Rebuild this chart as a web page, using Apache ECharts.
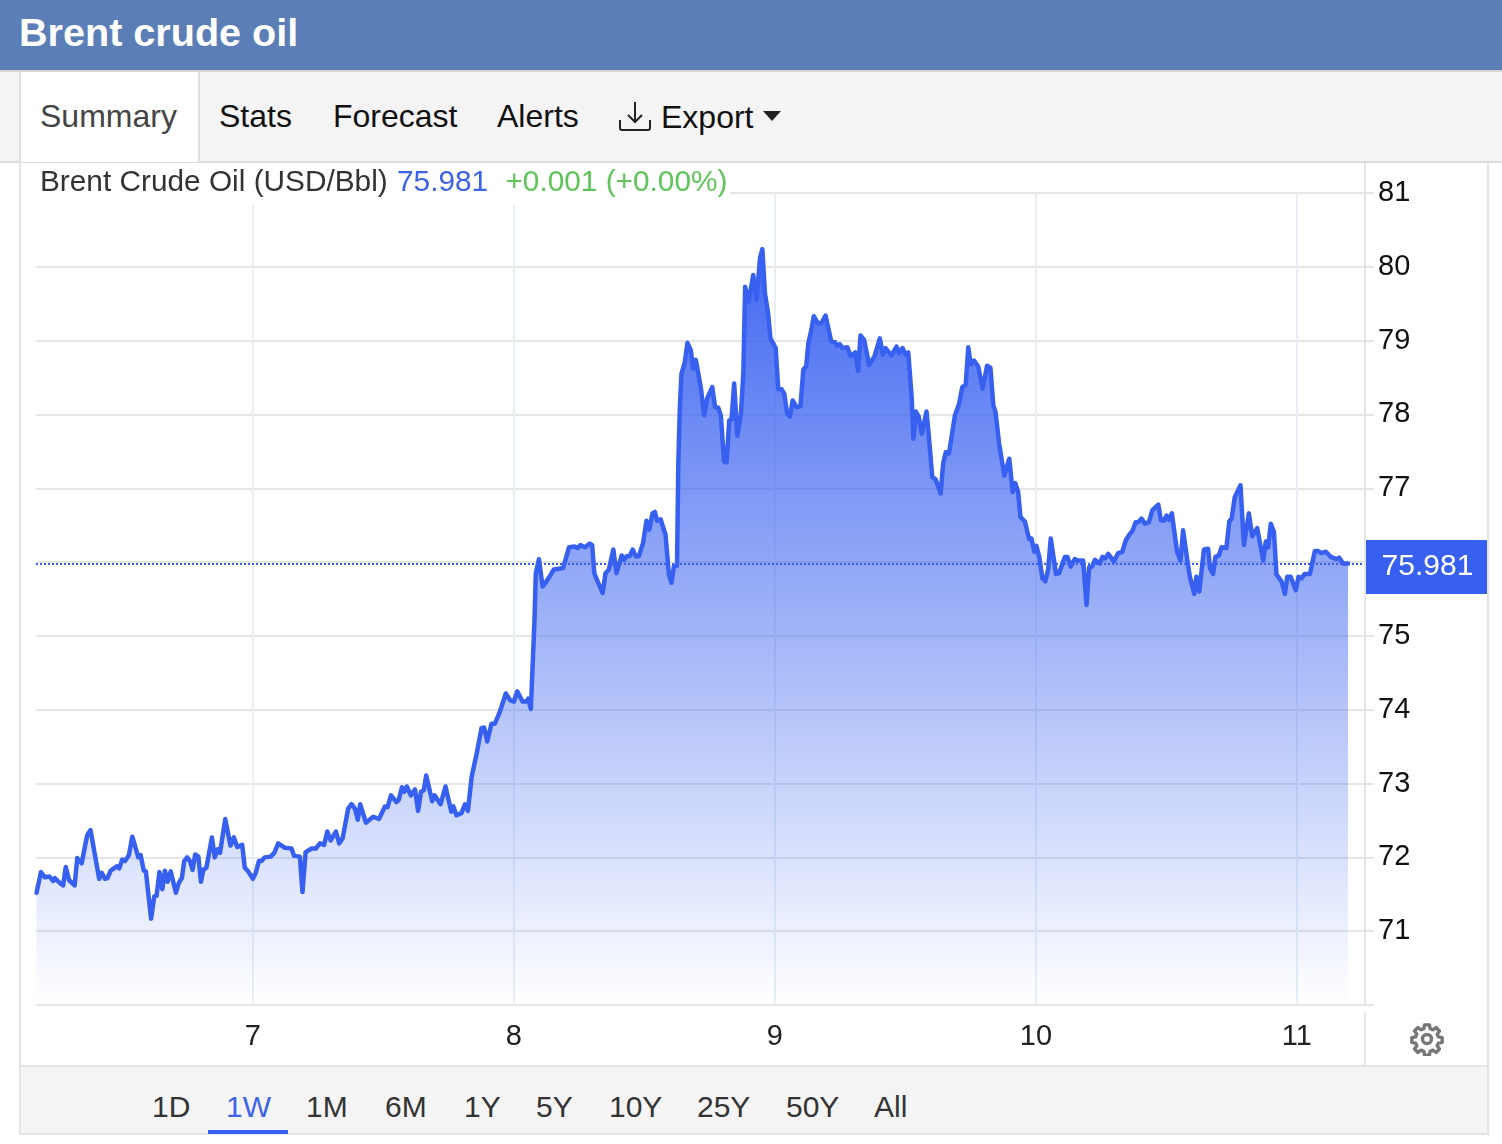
<!DOCTYPE html>
<html><head><meta charset="utf-8">
<script src="https://cdn.jsdelivr.net/npm/echarts@6/dist/echarts.min.js"></script>
<style>
html,body{margin:0;padding:0;background:#fff;width:1502px;height:1144px;overflow:hidden;font-family:"Liberation Sans",Arial,sans-serif}
.a{position:absolute}
.t{position:absolute;white-space:nowrap;line-height:40px;height:40px}
</style></head><body>
<div id="chart" class="a" style="left:0;top:0;width:1502px;height:1144px"></div>
<div class="a" style="left:0;top:0;width:1502px;height:70px;background:#5b7eb6"></div>
<div class="a" style="left:0;top:70px;width:1502px;height:2px;background:#d6d6d6"></div>
<div class="t" style="left:19px;top:12px;font-size:39.6px;font-weight:bold;color:#fff">Brent crude oil</div>
<div class="a" style="left:0;top:72px;width:1502px;height:89px;background:#f4f4f4"></div>
<div class="a" style="left:0;top:161px;width:1502px;height:2px;background:#dcdcdc"></div>
<div class="a" style="left:19px;top:72px;height:90px;background:#fff;border-left:2px solid #e0e0e0;border-right:2px solid #e0e0e0;box-sizing:border-box;width:181px"></div>
<div class="t" style="left:40px;top:96px;font-size:32px;color:#444">Summary</div>
<div class="t" style="left:219px;top:96px;font-size:32px;color:#111">Stats</div>
<div class="t" style="left:333px;top:96px;font-size:32px;color:#111">Forecast</div>
<div class="t" style="left:497px;top:96px;font-size:32px;color:#111">Alerts</div>
<svg class="a" style="left:618px;top:101px" width="34" height="30" viewBox="0 0 34 30" fill="none" stroke="#222" stroke-width="2"><path d="M17 1V21M10 14L17 21L24 14M2 19V27Q2 29 4 29H30Q32 29 32 27V19"/></svg>
<div class="t" style="left:661px;top:97px;font-size:32px;color:#111">Export</div>
<svg class="a" style="left:763px;top:111px" width="18" height="10"><path d="M0 0H18L9 10Z" fill="#222"/></svg>
<div class="a" style="left:19px;top:163px;width:2px;height:972px;background:#e4e4e4"></div>
<div class="a" style="left:1487px;top:163px;width:2px;height:972px;background:#e4e4e4"></div>
<div class="a" style="left:21px;top:163px;width:709px;height:41px;background:#fff"></div>
<div class="t" style="left:40px;top:161px;font-size:29.8px;color:#333">Brent Crude Oil (USD/Bbl) <span style="color:#3d63e8;margin-left:1px">75.981</span> <span style="color:#5fc55a;margin-left:9px">+0.001 (+0.00%)</span></div>
<div class="a" style="left:1364px;top:163px;width:2px;height:842px;background:#e4e4e4"></div>
<div class="a" style="left:1364px;top:1013px;width:2px;height:52px;background:#e4e4e4"></div>
<svg class="a" style="left:1410px;top:1022px" width="34" height="34" viewBox="0 0 24 24" fill="none" stroke="#777" stroke-width="2.4" stroke-linejoin="round"><circle cx="12" cy="12" r="3.2"/><path d="M10.3 2h3.4l.5 2.7 1.9.8 2.3-1.6 2.4 2.4-1.6 2.3.8 1.9 2.7.5v3.4l-2.7.5-.8 1.9 1.6 2.3-2.4 2.4-2.3-1.6-1.9.8-.5 2.7h-3.4l-.5-2.7-1.9-.8-2.3 1.6-2.4-2.4 1.6-2.3-.8-1.9-2.7-.5v-3.4l2.7-.5.8-1.9-1.6-2.3 2.4-2.4 2.3 1.6 1.9-.8z"/></svg>
<div class="a" style="left:21px;top:1065px;width:1466px;height:68px;background:#f4f4f4;border-top:2px solid #e4e4e4;box-sizing:border-box"></div>
<div class="a" style="left:19px;top:1133px;width:1470px;height:2px;background:#e4e4e4"></div>
<div class="a" style="left:208px;top:1130px;width:80px;height:4px;background:#3860f0"></div>
<div id="ranges"></div>
<script>
const times=[6.171,6.188,6.203,6.220,6.235,6.241,6.261,6.273,6.283,6.296,6.317,6.327,6.344,6.365,6.378,6.411,6.421,6.433,6.443,6.455,6.480,6.488,6.499,6.510,6.525,6.538,6.561,6.570,6.582,6.590,6.610,6.622,6.631,6.642,6.653,6.663,6.673,6.685,6.705,6.717,6.728,6.737,6.748,6.759,6.769,6.779,6.791,6.801,6.810,6.822,6.843,6.854,6.865,6.874,6.894,6.914,6.927,6.940,6.959,6.969,6.982,7.000,7.011,7.023,7.033,7.045,7.068,7.082,7.097,
7.123,7.148,7.158,7.180,7.190,7.202,7.225,7.241,7.257,7.273,7.285,7.298,7.318,7.331,7.344,7.365,7.378,7.391,7.402,7.411,7.433,7.461,7.483,7.506,7.516,7.529,7.550,7.559,7.571,7.580,7.590,7.605,7.621,7.633,7.644,7.655,7.664,7.687,7.696,7.719,7.738,7.760,7.768,7.780,7.799,7.813,7.824,7.838,7.857,7.876,7.886,7.898,7.914,7.927,7.946,7.969,7.985,8.000,8.013,8.033,8.048,8.055,8.065,
8.079,8.084,8.096,8.110,8.123,8.138,8.153,8.189,8.211,8.234,8.244,8.255,8.272,8.291,8.300,8.308,8.323,8.340,8.351,8.364,8.381,8.393,8.413,8.423,8.432,8.444,8.455,8.467,8.479,8.495,8.508,8.519,8.531,8.540,8.549,8.562,8.581,8.594,8.604,8.613,8.625,8.630,8.636,8.642,8.655,8.665,8.678,8.687,8.697,8.716,8.729,8.741,8.760,8.771,8.783,8.793,8.805,8.815,8.825,8.834,
8.844,8.856,8.870,8.879,8.886,8.900,8.917,8.930,8.943,8.952,8.962,8.974,8.983,9.003,9.013,9.026,9.036,9.047,9.058,9.068,9.083,9.098,9.109,9.120,9.128,9.140,9.149,9.166,9.179,9.194,9.216,9.230,9.239,9.249,9.259,9.278,9.290,9.308,9.319,9.328,9.342,9.361,9.382,9.402,9.414,9.424,9.446,9.466,9.476,9.489,9.501,9.511,9.524,9.531,9.540,9.551,9.563,9.581,9.590,9.603,9.616,9.635,9.645,9.655,9.667,9.690,9.706,9.718,9.731,9.741,9.750,9.763,9.779,9.796,9.813,9.826,9.837,9.845,9.859,9.879,9.898,9.911,9.921,9.932,
9.941,9.958,9.974,9.983,9.994,10.002,10.013,10.025,10.036,10.047,10.057,10.077,10.089,10.102,10.111,10.121,10.133,10.149,10.162,10.181,10.194,10.204,10.216,10.226,10.245,10.255,10.266,10.277,10.299,10.315,10.331,10.345,10.360,10.370,10.382,10.392,10.405,10.418,10.433,10.446,10.469,10.479,10.490,10.501,10.510,10.521,10.541,10.554,10.564,10.580,10.590,10.607,10.615,10.626,10.644,10.660,10.667,10.679,10.688,10.701,10.711,10.730,10.741,10.750,10.762,10.784,10.797,10.816,10.829,10.848,10.871,10.881,10.890,10.900,10.912,10.922,10.941,10.954,10.963,10.976,10.996,11.006,11.018,11.030,11.050,11.069,11.082,11.094,11.111,11.130,11.152,11.162,11.177,11.196];
const prices=[71.52,71.80,71.73,71.74,71.68,71.72,71.65,71.62,71.87,71.69,71.62,71.99,71.92,72.30,72.37,71.71,71.79,71.71,71.72,71.82,71.88,71.85,71.97,71.95,72.03,72.28,72.00,72.03,71.82,71.81,71.17,71.47,71.48,71.80,71.57,71.82,71.67,71.81,71.52,71.66,71.72,71.95,72.00,71.95,71.83,72.04,72.01,71.67,71.83,71.86,72.27,72.00,72.11,72.06,72.52,72.16,72.27,72.14,72.17,71.86,71.81,71.71,71.79,71.95,71.95,72.00,72.01,72.06,72.19,
72.13,72.12,72.02,72.01,71.53,72.07,72.12,72.12,72.19,72.17,72.35,72.23,72.35,72.19,72.26,72.66,72.72,72.66,72.51,72.72,72.47,72.55,72.52,72.69,72.68,72.84,72.75,72.78,72.95,72.89,72.96,72.84,72.92,72.63,72.89,72.91,73.11,72.76,72.84,72.72,72.96,72.62,72.69,72.57,72.60,72.72,72.63,73.09,73.40,73.75,73.76,73.57,73.81,73.81,73.97,74.22,74.13,74.11,74.25,74.11,74.11,74.15,74.01,
75.22,75.85,76.04,75.67,75.73,75.81,75.90,75.92,76.20,76.21,76.19,76.23,76.20,76.25,76.23,75.85,75.72,75.58,75.85,75.90,76.17,75.85,76.09,76.03,76.08,76.08,76.17,76.08,76.08,76.26,76.56,76.44,76.66,76.68,76.56,76.58,76.37,75.83,75.72,75.94,75.95,77.34,78.10,78.55,78.71,78.97,78.87,78.62,78.74,78.37,77.99,78.22,78.37,78.10,78.09,77.99,77.36,77.35,77.92,77.93,
78.42,77.71,78.01,78.55,79.73,79.53,79.89,79.55,80.12,80.24,79.64,79.37,79.03,78.90,78.34,78.34,78.28,78.01,77.97,78.19,78.10,78.11,78.61,78.65,78.96,79.15,79.33,79.23,79.24,79.34,78.99,78.98,78.93,78.95,78.90,78.91,78.79,78.84,78.59,79.07,79.01,78.67,78.79,79.03,78.81,78.90,78.80,78.92,78.83,78.90,78.81,78.84,78.24,77.67,78.04,77.97,77.74,78.04,77.70,77.15,77.12,76.93,77.34,77.49,77.47,77.99,78.15,78.37,78.40,78.91,78.68,78.73,78.65,78.35,78.66,78.63,78.12,78.04,77.61,77.17,77.40,76.95,77.07,76.95,
76.61,76.55,76.31,76.32,76.14,76.22,76.07,75.78,75.74,75.90,76.32,75.84,75.85,75.98,76.07,76.07,75.94,76.04,76.02,76.02,75.42,75.93,75.94,76.03,75.98,76.07,76.05,76.11,76.01,76.12,76.14,76.30,76.38,76.42,76.54,76.54,76.59,76.52,76.54,76.70,76.78,76.57,76.56,76.63,76.57,76.66,76.14,76.02,76.43,76.03,75.80,75.57,75.80,75.60,76.17,76.18,75.92,75.84,76.07,76.09,76.20,76.19,76.55,76.59,76.88,77.04,76.23,76.66,76.35,76.46,76.02,76.28,76.20,76.52,76.41,75.83,75.74,75.57,75.80,75.80,75.62,75.80,75.78,75.84,75.84,76.15,76.15,76.12,76.14,76.07,76.04,76.06,75.98,75.981];
const dayTicks=[7,8,9,10,11];
const priceTicks=[71,72,73,74,75,76,77,78,79,80,81];
const rangeLabels=['1D','1W','1M','6M','1Y','5Y','10Y','25Y','50Y','All'];
const rangeLefts=[152,226,306,385,464,536,609,697,786,874];
const lastPrice='75.981';
const LINE='#3860f0';
const ranges=document.getElementById('ranges');
rangeLabels.forEach((r,i)=>{const d=document.createElement('div');d.className='t';d.textContent=r;
 d.style.cssText=`left:${rangeLefts[i]}px;top:1087px;font-size:30px;color:${r==='1W'?'#3d63e8':'#333'}`;ranges.appendChild(d);});
const chart=echarts.init(document.getElementById('chart'));
chart.setOption({animation:false,
 grid:{left:36,right:137,top:193,bottom:139,containLabel:false},
 xAxis:{type:'value',min:6.169,max:11.261,
  axisLine:{show:false},axisTick:{show:false},
  splitLine:{show:false},
  axisLabel:{customValues:dayTicks,fontFamily:'Liberation Sans',fontSize:29,color:'#222',margin:17,formatter:v=>String(v)}},
 yAxis:{type:'value',position:'right',min:70,max:81,interval:1,
  axisLine:{show:true,lineStyle:{color:'#e4e4e4',width:2}},
  axisTick:{show:true,length:9,lineStyle:{color:'#e6e6e6',width:2}},
  splitLine:{show:true,lineStyle:{color:'#e6e6e6',width:2}},
  axisLabel:{fontFamily:'Liberation Sans',fontSize:29,color:'#111',margin:13,padding:[0,0,10,0],
   formatter:v=>priceTicks.includes(v)?String(v):''}},
 series:[
 {type:'line',data:dayTicks.map(d=>[d,70]),symbol:'none',lineStyle:{width:0},silent:true,z:1,
  markLine:{silent:true,z:1,symbol:'none',label:{show:false},lineStyle:{color:'#e8f0f5',width:2,type:'solid'},
   data:dayTicks.map(d=>({xAxis:d}))}},
 {type:'line',data:times.map((t,i)=>[t,prices[i]]),symbol:'none',smooth:false,z:3,
  lineStyle:{color:LINE,width:4.5,join:'round',cap:'round'},
  areaStyle:{opacity:1,color:new echarts.graphic.LinearGradient(0,0,0,1,[{offset:0,color:'rgba(56,96,240,0.95)'},{offset:1,color:'rgba(56,96,240,0)'}])},
  markLine:{silent:true,z:5,symbol:'none',
   lineStyle:{color:LINE,width:2,type:[2,2]},
   label:{show:true,position:'end',formatter:lastPrice,color:'#fff',fontFamily:'Liberation Sans',fontSize:30,
    backgroundColor:'#3860f0',width:123,height:54,lineHeight:54,align:'center',distance:0,offset:[62.5,3.5]},
   data:[{yAxis:+lastPrice}]}}
 ]});
</script>
</body></html>
